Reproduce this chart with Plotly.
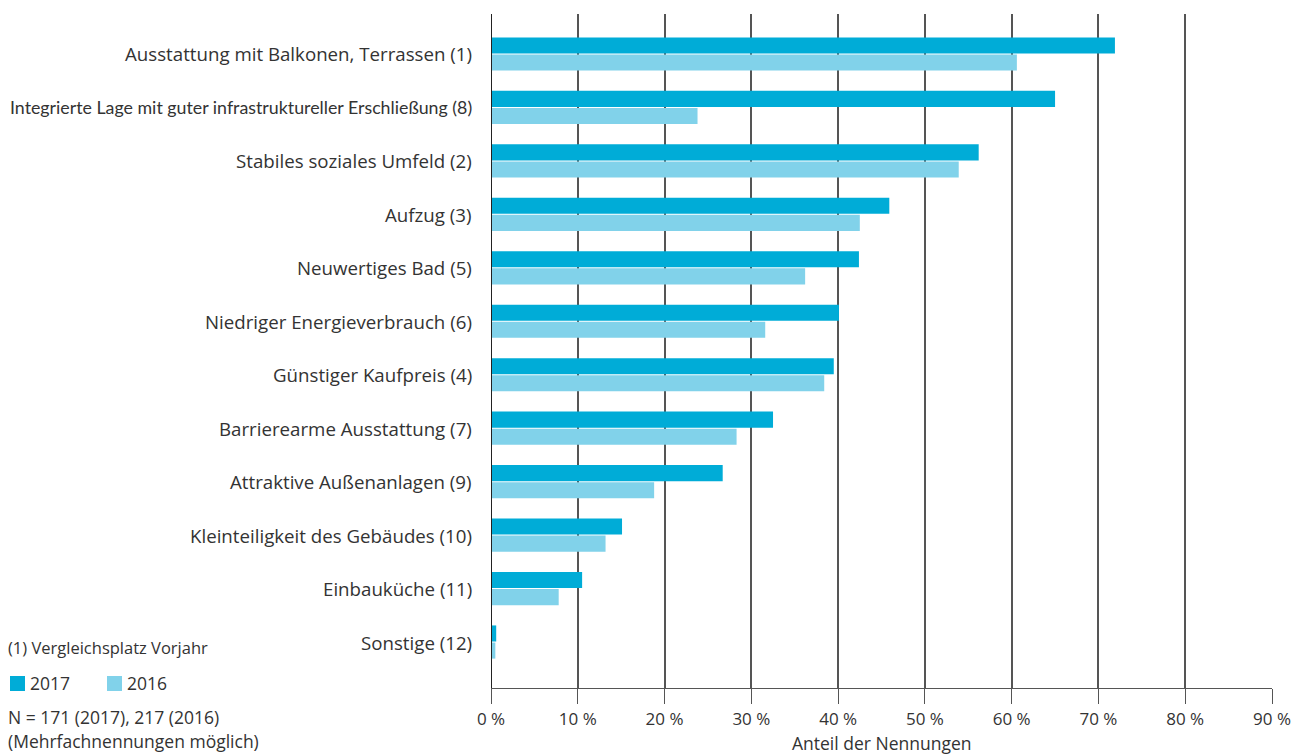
import plotly.graph_objects as go

categories = [
    "Ausstattung mit Balkonen, Terrassen (1)",
    "Integrierte Lage mit guter infrastruktureller Erschließung (8)",
    "Stabiles soziales Umfeld (2)",
    "Aufzug (3)",
    "Neuwertiges Bad (5)",
    "Niedriger Energieverbrauch (6)",
    "Günstiger Kaufpreis (4)",
    "Barrierearme Ausstattung (7)",
    "Attraktive Außenanlagen (9)",
    "Kleinteiligkeit des Gebäudes (10)",
    "Einbauküche (11)",
    "Sonstige (12)",
]
values_2017 = [71.9, 65.0, 56.2, 45.9, 42.4, 40.1, 39.5, 32.5, 26.7, 15.1, 10.5, 0.6]
values_2016 = [60.6, 23.8, 53.9, 42.5, 36.2, 31.6, 38.4, 28.3, 18.8, 13.2, 7.8, 0.5]
x_ticks = [0, 10, 20, 30, 40, 50, 60, 70, 80, 90]
x_tick_labels = [f"{t} %" for t in x_ticks]

C2017 = "#00ACD7"
C2016 = "#81D2EA"
TXT = "#333333"
FONT = "Open Sans"

pos = list(range(len(categories)))

fig = go.Figure()
fig.add_trace(go.Bar(y=pos, x=values_2017, orientation="h", name="2017",
                     marker=dict(color=C2017, line_width=0)))
fig.add_trace(go.Bar(y=pos, x=values_2016, orientation="h", name="2016",
                     marker=dict(color=C2016, line_width=0)))

fig.update_layout(
    width=1306, height=756,
    margin=dict(l=491, r=34, t=14, b=68),
    paper_bgcolor="white", plot_bgcolor="white",
    barmode="group", bargap=0.36, bargroupgap=0.06,
    showlegend=False,
    font=dict(family=FONT, size=16, color=TXT),
    xaxis=dict(
        range=[0, 90], tickvals=x_ticks, ticktext=x_tick_labels,
        showgrid=True, gridcolor="#555555", gridwidth=1.5,
        zeroline=False, showline=True, linecolor="#555555", linewidth=1.2,
        ticks="outside", ticklen=15, tickcolor="#555555", tickwidth=1.2,
        tickfont=dict(family=FONT, size=17, color=TXT),
        automargin=False, fixedrange=True,
    ),
    yaxis=dict(
        range=[11.86, -0.748], showticklabels=False, showgrid=False,
        zeroline=False, showline=False, fixedrange=True, automargin=False,
    ),
)

# zero line on the left edge of the plot
fig.add_shape(type="line", xref="x", yref="paper", x0=0, x1=0, y0=0, y1=1,
              line=dict(color="#222222", width=2))

# category labels
for i, cat in enumerate(categories):
    narrow = len(cat) > 45
    fig.add_annotation(
        x=0, y=i, xref="x", yref="y", xanchor="right", yanchor="middle",
        xshift=-17, text=cat, showarrow=False,
        font=dict(family="Lato" if narrow else FONT,
                  size=17.8 if narrow else 18.7, color=TXT),
    )

def px_x(px):
    return (px - 491) / (1272 - 491)

def px_y(py):
    return (688 - py) / (688 - 14)

# axis title
fig.add_annotation(x=0.5, y=px_y(743), xref="paper", yref="paper",
                   xanchor="center", yanchor="middle", text="Anteil der Nennungen",
                   showarrow=False, font=dict(family=FONT, size=17.5, color=TXT))

# notes and legend in the lower left corner
def note(text, x, y, size=17.5):
    fig.add_annotation(x=x, y=y, xref="paper", yref="paper",
                       xanchor="left", yanchor="middle", text=text,
                       showarrow=False, font=dict(family=FONT, size=size, color=TXT))

note("(1) Vergleichsplatz Vorjahr", px_x(6), px_y(647), 16.5)
for color, label, x0 in [(C2017, "2017", 10), (C2016, "2016", 107)]:
    fig.add_shape(type="rect", xref="paper", yref="paper",
                  x0=px_x(x0), x1=px_x(x0 + 15), y0=px_y(691), y1=px_y(676),
                  fillcolor=color, line_width=0)
    note(label, px_x(x0 + 18), px_y(683))
note("N = 171 (2017), 217 (2016)", px_x(6), px_y(717))
note("(Mehrfachnennungen möglich)", px_x(6), px_y(741))

fig.write_html("out.html")
